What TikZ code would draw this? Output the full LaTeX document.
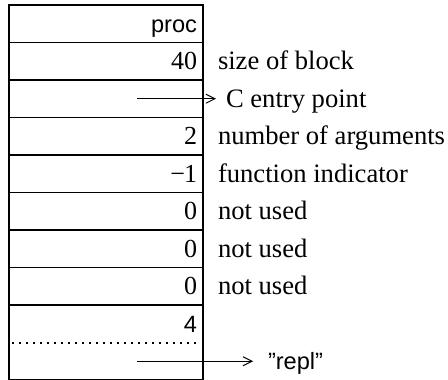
\documentclass[tikz,border=0pt]{standalone}
\usepackage{fontspec}
\setmainfont{Liberation Serif}
\setsansfont{Liberation Sans}
\usetikzlibrary{positioning, arrows.meta}
\tikzset{
    cell/.style={draw, line width=0.7pt, minimum width=97pt, minimum height=18.75pt,
        text width=91pt, align=right, inner xsep=3pt, inner ysep=0pt, outer sep=0pt,
        text height=11.5pt, text depth=3pt, font=\fontsize{13}{16}\selectfont},
    half/.style={cell, draw=none},
    note/.style={anchor=west, inner sep=0pt, outer sep=0pt, text height=11.5pt, text depth=3pt,
        font=\fontsize{13.3}{16}\selectfont},
    sans/.style={font=\sffamily\fontsize{11.8}{14}\selectfont},
    ptr/.style={-{Straight Barb[length=4.5pt, width=4.5pt]}, line width=0.5pt}
}
\begin{document}
\begin{tikzpicture}[x=0.5pt, y=0.5pt]
    \useasboundingbox (0,0) rectangle (448,379);

    % words of the block
    \node[cell, sans, anchor=north west] (c1) at (9,374) {proc\hspace{1pt}};
    \node[cell, below=0pt of c1] (c2) {40};
    \node[cell, below=0pt of c2] (c3) {};
    \node[cell, below=0pt of c3] (c4) {2};
    \node[cell, below=0pt of c4] (c5) {−\kern-0.5pt1};
    \node[cell, below=0pt of c5] (c6) {0};
    \node[cell, below=0pt of c6] (c7) {0};
    \node[cell, below=0pt of c7] (c8) {0};

    % last word, split by the dotted line
    \node[half, sans, below=0pt of c8] (c9) {4};
    \node[half, below=0pt of c9] (c10) {};
    \draw[line width=0.7pt] (c9.north west) rectangle (c10.south east);
    \draw[line width=1pt, dash pattern=on 0.8pt off 2.7pt]
        ([xshift=1.5pt]c9.south west) -- ([xshift=-2pt]c9.south east);

    % notes
    \node[note, right=7.5pt of c2] (size) {size of block};
    \node[note, right=6.5pt of c3, inner xsep=5pt] (entry) {C entry point};
    \node[note, right=7.5pt of c4] (nargs) {number of arguments};
    \node[note, right=7.5pt of c5] (ind) {function indicator};
    \node[note, right=7.5pt of c6] (nu1) {not used};
    \node[note, right=7.5pt of c7] (nu2) {not used};
    \node[note, right=7.5pt of c8] (nu3) {not used};
    \node[note, sans, right=25pt of c10, inner xsep=7.5pt] (repl) {"repl"};

    % pointers
    \coordinate (e1) at ([xshift=15.5pt]c3.center);
    \coordinate (e2) at ([xshift=15.5pt]c10.center);
    \draw[ptr] (e1) -- (entry.west);
    \draw[ptr] (e2) -- (repl.west);
\end{tikzpicture}
\end{document}
